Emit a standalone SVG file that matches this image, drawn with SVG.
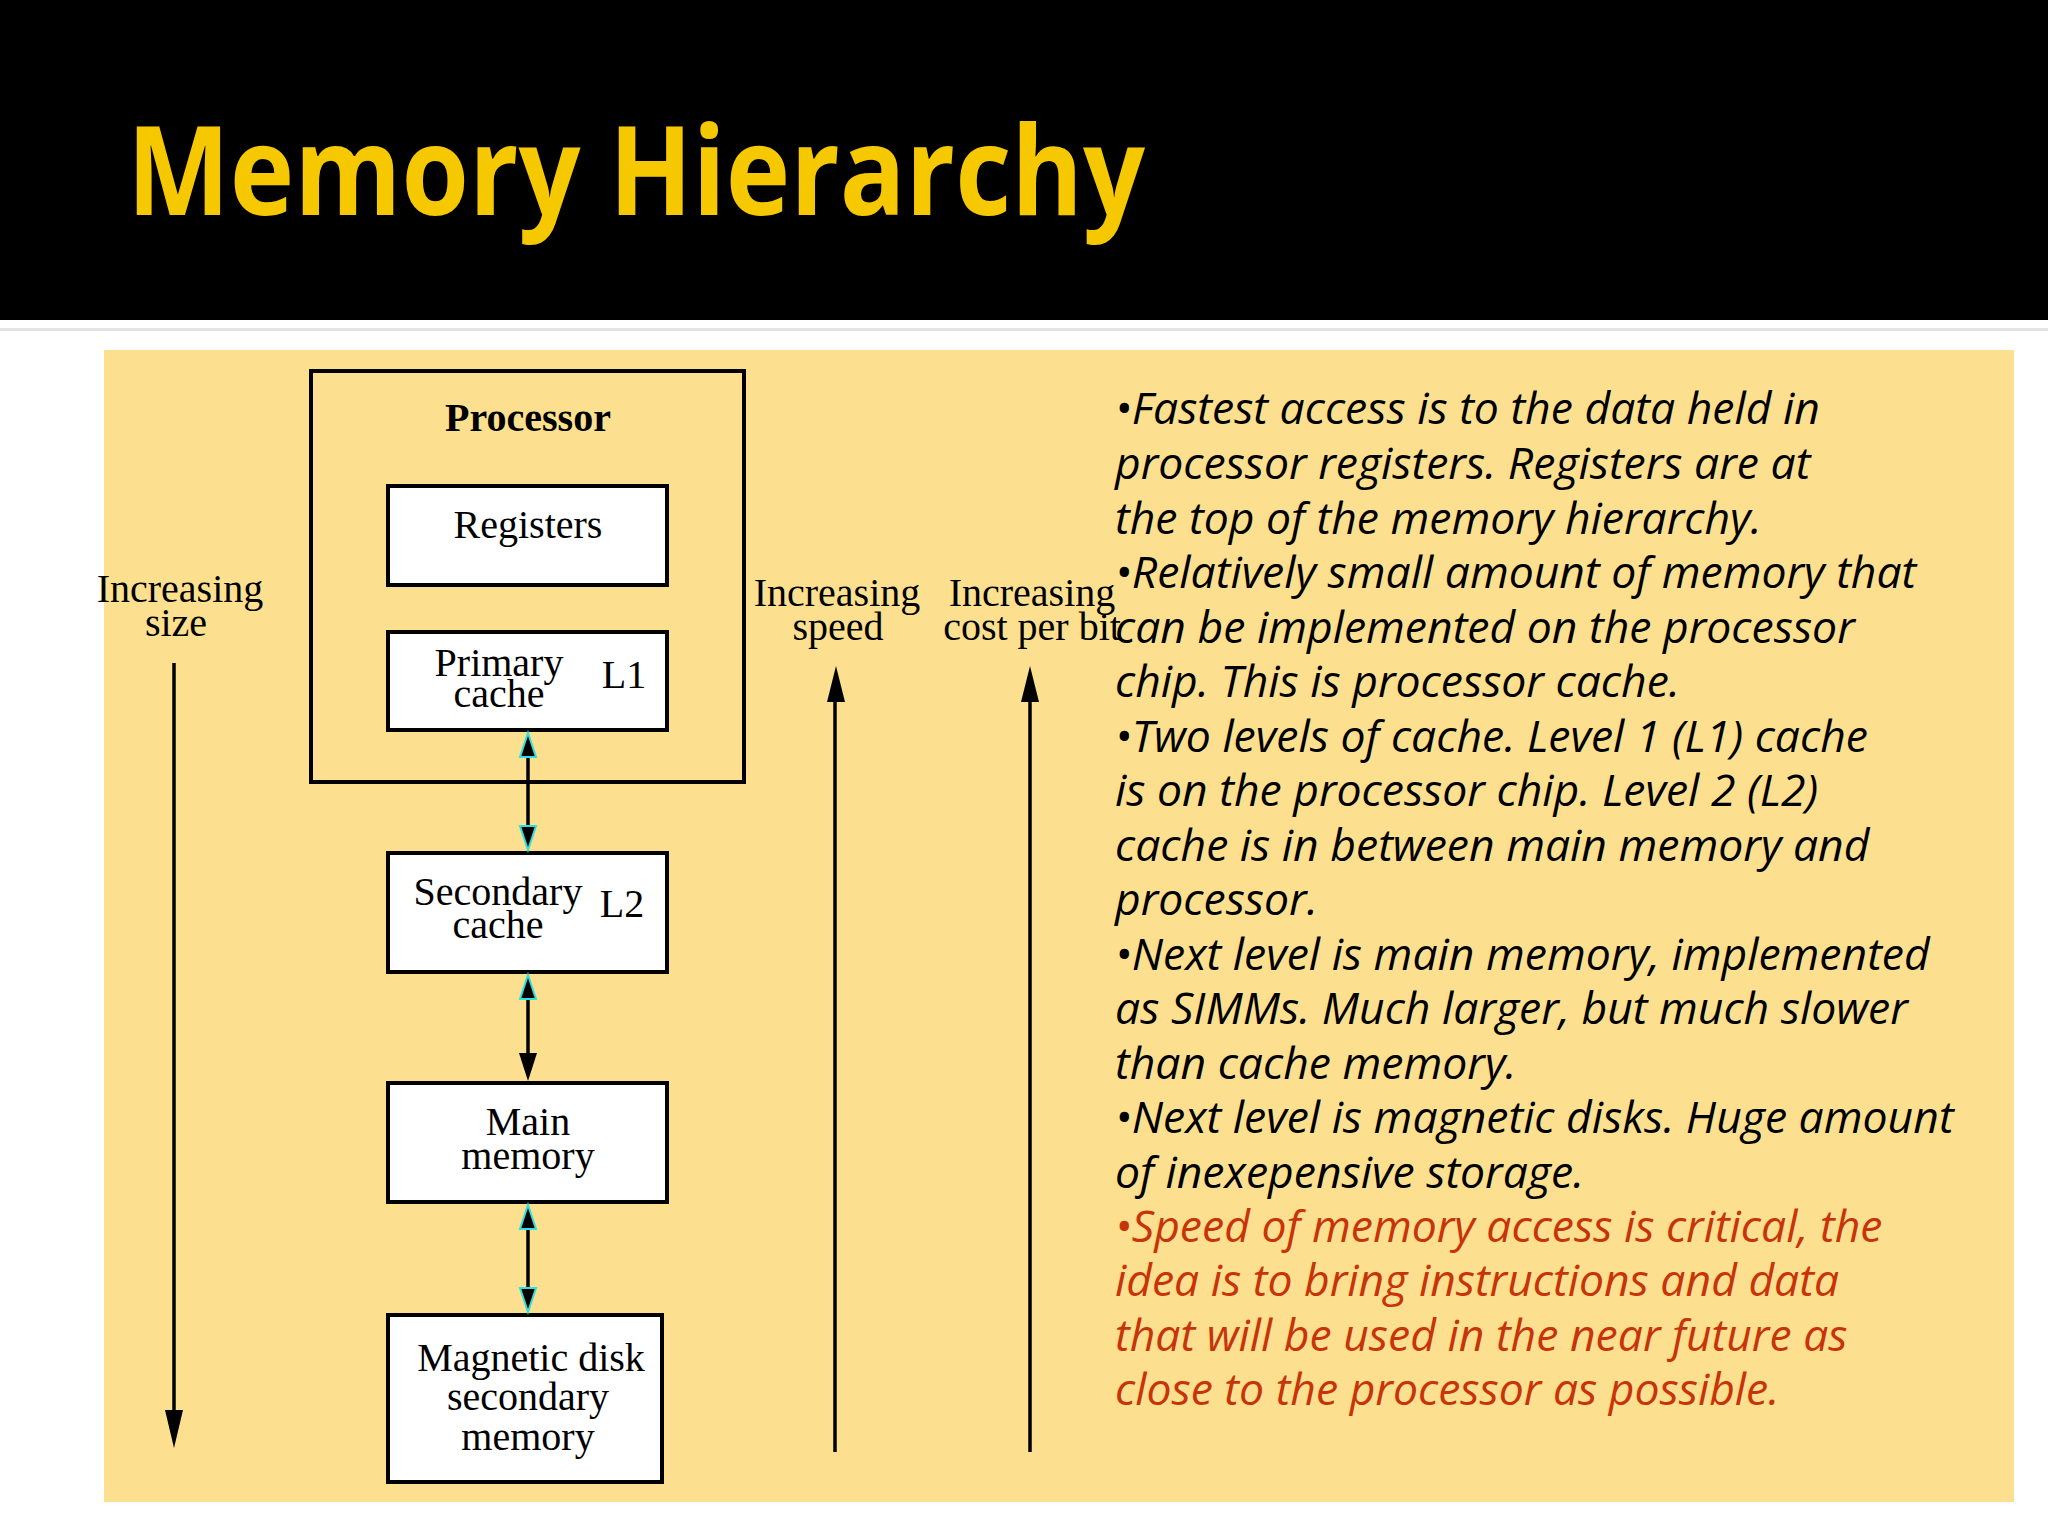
<svg xmlns="http://www.w3.org/2000/svg" width="2048" height="1536" viewBox="0 0 2048 1536">
<defs>
<style>
.s{font-family:"Liberation Serif","Times New Roman",serif;font-size:40px;fill:#000;text-anchor:middle}
.box{fill:#fff;stroke:#000;stroke-width:4}
.ln{stroke:#000;stroke-width:3.5;fill:none}
.hd{fill:#000}
.cy{fill:#000;stroke:#30E0E0;stroke-width:2}
.r{font-family:"Open Sans","Noto Sans",sans-serif;font-style:italic;font-size:44.5px;fill:#000}
.red{fill:#C8340A}
</style>
</defs>
<rect width="2048" height="1536" fill="#fff"/>
<rect width="2048" height="320" fill="#000"/>
<rect x="0" y="328" width="2048" height="3" fill="#e4e4e4"/>
<text x="127" y="215" font-family="Open Sans,Noto Sans,sans-serif" font-weight="bold" font-size="124" fill="#F5C800" textLength="1018" lengthAdjust="spacingAndGlyphs">Memory Hierarchy</text>
<rect x="104" y="350" width="1910" height="1152" fill="#FCE08F"/>

<g id="processor"><rect x="311" y="371" width="433" height="411" fill="none" stroke="#000" stroke-width="4"/>
<text class="s" x="528" y="431" font-weight="bold">Processor</text></g>
<g id="registers"><rect class="box" x="388" y="486" width="279" height="99"/><text class="s" x="528" y="538">Registers</text></g>
<g id="l1"><rect class="box" x="388" y="632" width="279" height="98"/><text class="s" x="499" y="676">Primary</text><text class="s" x="499" y="707">cache</text><text class="s" x="624" y="688">L1</text></g>
<g id="l2"><rect class="box" x="388" y="853" width="279" height="119"/><text class="s" x="498" y="905">Secondary</text><text class="s" x="498" y="938">cache</text><text class="s" x="622" y="917">L2</text></g>
<g id="main"><rect class="box" x="388" y="1083" width="279" height="119"/><text class="s" x="528" y="1135">Main</text><text class="s" x="528" y="1169">memory</text></g>
<g id="disk"><rect class="box" x="388" y="1315" width="274" height="167"/><text class="s" x="531" y="1371">Magnetic disk</text><text class="s" x="528" y="1410">secondary</text><text class="s" x="528" y="1450">memory</text></g>

<g id="labels">
<text class="s" x="180" y="602">Increasing</text><text class="s" x="176" y="636">size</text>
<text class="s" x="837" y="606">Increasing</text><text class="s" x="838" y="640">speed</text>
<text class="s" x="1032" y="606">Increasing</text><text class="s" x="1032" y="640">cost per bit</text>
</g>

<g id="connectors">
<line class="ln" x1="528" y1="750" x2="528" y2="835"/>
<path class="cy" d="M528,733 L536,757 L520,757 z"/>
<path class="cy" d="M528,850 L536,826 L520,826 z"/>
<line class="ln" x1="528" y1="992" x2="528" y2="1060"/>
<path class="cy" d="M528,975 L536,999 L520,999 z"/>
<path class="hd" d="M528,1081 L537,1053 L519,1053 z"/>
<line class="ln" x1="528" y1="1222" x2="528" y2="1295"/>
<path class="cy" d="M528,1205 L536,1229 L520,1229 z"/>
<path class="cy" d="M528,1312 L536,1288 L520,1288 z"/>
<line class="ln" x1="174" y1="663" x2="174" y2="1420"/>
<path class="hd" d="M174,1448 L183,1410 L165,1410 z"/>
<line class="ln" x1="835" y1="1452" x2="835" y2="690"/>
<path class="hd" d="M836,666 L845,702 L827,702 z"/>
<line class="ln" x1="1030" y1="1452" x2="1030" y2="690"/>
<path class="hd" d="M1030,666 L1039,702 L1021,702 z"/>
</g>

<g id="text">
<text class="r" x="1115" y="424">•Fastest access is to the data held in</text>
<text class="r" x="1115" y="479">processor registers. Registers are at</text>
<text class="r" x="1115" y="534">the top of the memory hierarchy.</text>
<text class="r" x="1115" y="588">•Relatively small amount of memory that</text>
<text class="r" x="1115" y="643">can be implemented on the processor</text>
<text class="r" x="1115" y="697">chip. This is processor cache.</text>
<text class="r" x="1115" y="752">•Two levels of cache. Level 1 (L1) cache</text>
<text class="r" x="1115" y="806">is on the processor chip. Level 2 (L2)</text>
<text class="r" x="1115" y="861">cache is in between main memory and</text>
<text class="r" x="1115" y="915">processor.</text>
<text class="r" x="1115" y="970">•Next level is main memory, implemented</text>
<text class="r" x="1115" y="1024">as SIMMs. Much larger, but much slower</text>
<text class="r" x="1115" y="1079">than cache memory.</text>
<text class="r" x="1115" y="1133">•Next level is magnetic disks. Huge amount</text>
<text class="r" x="1115" y="1188">of inexepensive storage.</text>
<text class="r red" x="1115" y="1242">•Speed of memory access is critical, the</text>
<text class="r red" x="1115" y="1296">idea is to bring instructions and data</text>
<text class="r red" x="1115" y="1351">that will be used in the near future as</text>
<text class="r red" x="1115" y="1405">close to the processor as possible.</text>
</g>
</svg>
